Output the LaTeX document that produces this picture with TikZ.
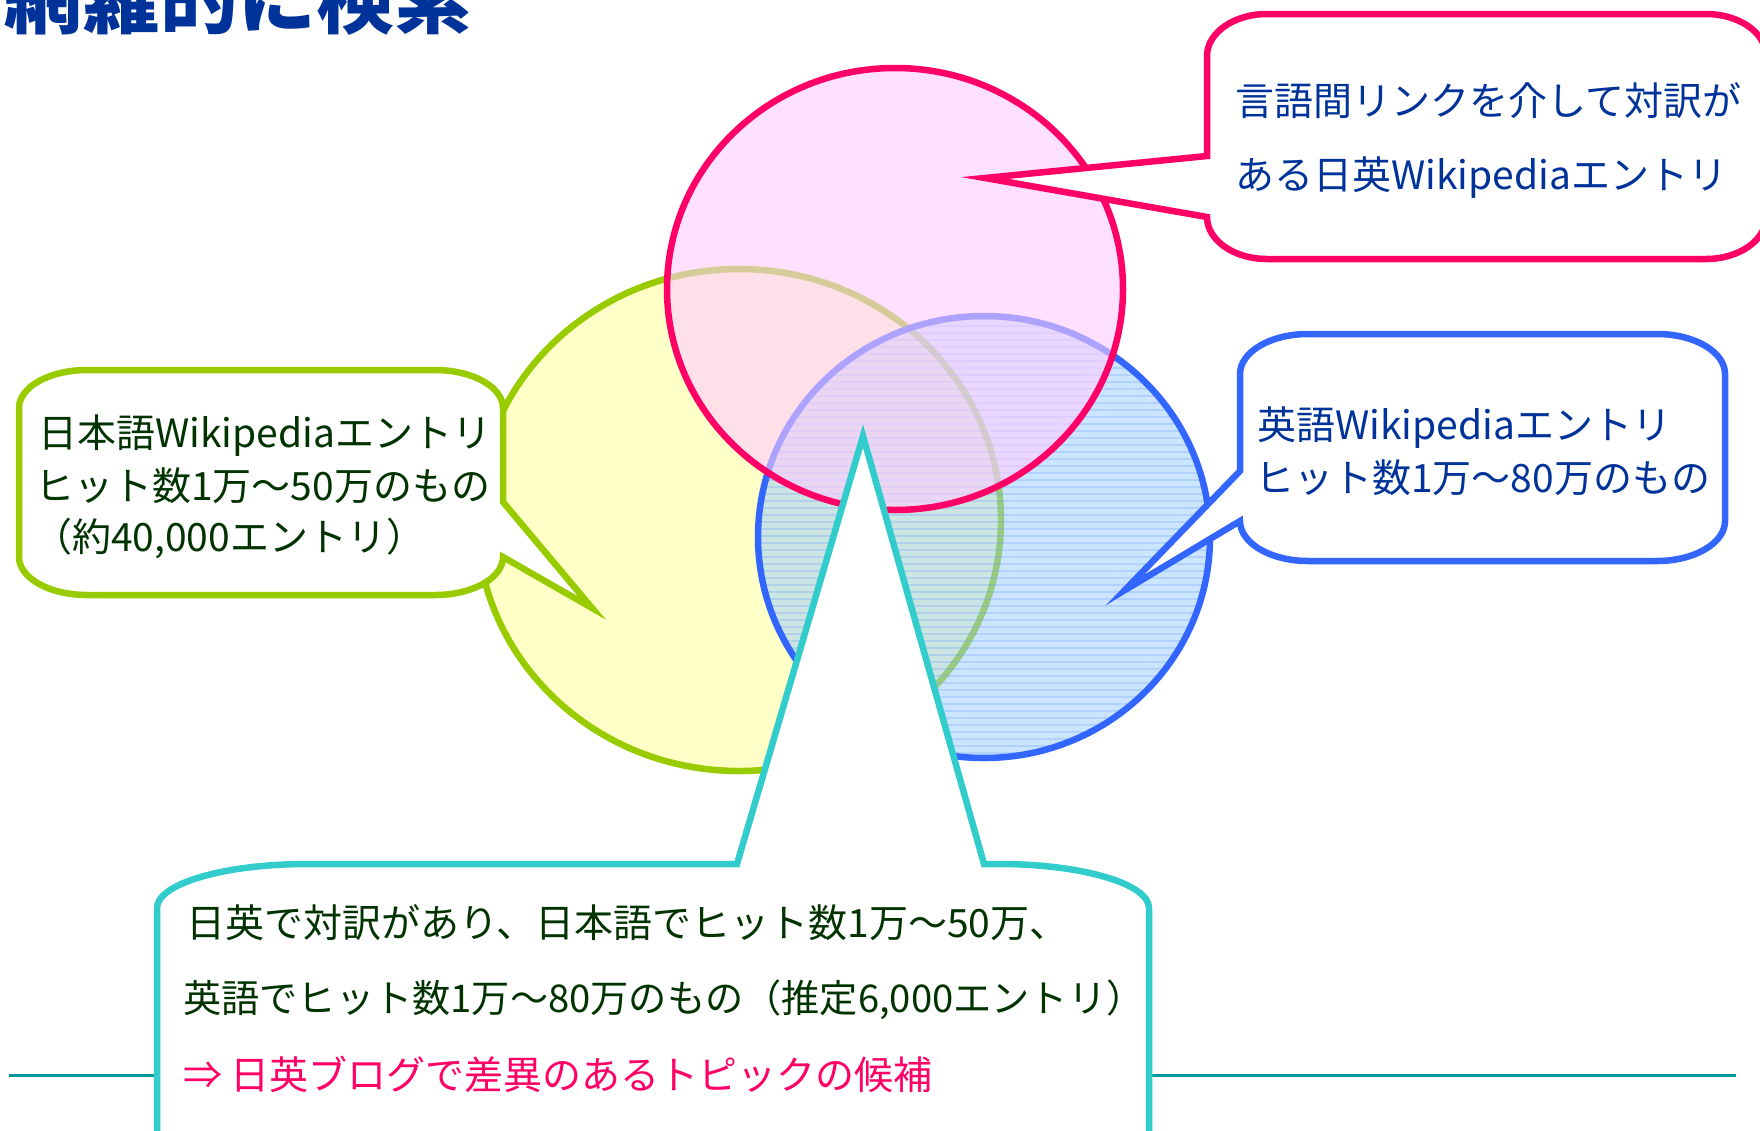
\documentclass[tikz,border=0pt]{standalone}
\usepackage{fontspec}
\setmainfont{Noto Sans CJK JP}
\usetikzlibrary{calc}
\definecolor{pinkc}{HTML}{FF0066}
\definecolor{bluec}{HTML}{3366FF}
\definecolor{greenc}{HTML}{99CC00}
\definecolor{cyanc}{HTML}{33CCCC}
\definecolor{tealc}{HTML}{009999}
\definecolor{txtblue}{HTML}{003399}
\definecolor{txtgreen}{HTML}{003300}
\definecolor{yellowfill}{HTML}{FFFFC8}
\definecolor{bluefill}{HTML}{99CCFF}
\definecolor{pinkfill}{HTML}{FFCCFF}
\definecolor{patblue}{HTML}{6699FF}
% elliptical rounded corner: from A(#1,#2) with corner C(#3,#4) to B(#5,#6)
\newcommand\rc[6]{.. controls ({#1+0.552*(#3-#1)},{#2+0.552*(#4-#2)}) and ({#5+0.552*(#3-#5)},{#6+0.552*(#4-#6)}) .. (#5,#6)}
\tikzset{
  txt/.style={anchor=base west, inner sep=0pt, font=\fontsize{39}{47}\selectfont},
  callbox/.style={line width=6.5pt, fill=white, line join=miter, miter limit=10},
  ring/.style={line width=6.5pt},
}
\begin{document}
\begin{tikzpicture}[x=1pt,y=-1pt]
\useasboundingbox (0,0) rectangle (1760,1130);
\fill[white] (0,0) rectangle (1760,1130);

% title (cut off at top)
\node[anchor=base west, inner sep=0pt, text=txtblue, font=\bfseries\fontsize{78}{78}\selectfont] (title) at (4,27) {網羅的に検索};

% yellow circle
\fill[yellowfill] (739,520) ellipse [x radius=262pt, y radius=251pt];
\draw[ring, greenc] (739,520) ellipse [x radius=262pt, y radius=251pt];

% blue circle (semi-transparent, horizontal line pattern)
\fill[bluefill, fill opacity=0.5] (984,537) ellipse [x radius=226pt, y radius=221pt];
\begin{scope}
  \clip (984,537) ellipse [x radius=226pt, y radius=221pt];
  \foreach \yy in {312,319,...,762} {
    \draw[patblue, line width=1.4pt, draw opacity=0.25] (750,\yy) -- (1220,\yy);
  }
\end{scope}
\draw[ring, bluec] (984,537) ellipse [x radius=226pt, y radius=221pt];

% pink circle
\fill[pinkfill, fill opacity=0.6] (895,289) ellipse [x radius=228pt, y radius=221pt];
\draw[ring, pinkc] (895,289) ellipse [x radius=228pt, y radius=221pt];

% green callout (left)
\coordinate (gtip) at (592,608);
\draw[callbox, draw=greenc] (503,502) -- (gtip) -- (503,557)
  \rc{503}{557}{503}{595}{435}{595} -- (87,595)
  \rc{87}{595}{19}{595}{19}{557} -- (19,408)
  \rc{19}{408}{19}{370}{87}{370} -- (435,370)
  \rc{435}{370}{503}{370}{503}{408} -- cycle;
\node[txt, text=txtgreen] (g1) at (38,447) {日本語Wikipediaエントリ};
\node[txt, text=txtgreen] (g2) at (35,500) {ヒット数1万～50万のもの};
\node[txt, text=txtgreen] (g3) at (33,551) {（約40,000エントリ）};

% blue callout (right)
\coordinate (btip) at (1125,590);
\draw[callbox, draw=bluec] (1240,471) -- (btip) -- (1240,521)
  \rc{1240}{521}{1240}{561}{1308}{561} -- (1657,561)
  \rc{1657}{561}{1725}{561}{1725}{521} -- (1725,374)
  \rc{1725}{374}{1725}{334}{1657}{334} -- (1308,334)
  \rc{1308}{334}{1240}{334}{1240}{374} -- cycle;
\node[txt, text=txtblue] (b1) at (1257,439) {英語Wikipediaエントリ};
\node[txt, text=txtblue] (b2) at (1255,492) {ヒット数1万～80万のもの};

% pink callout (top right)
\coordinate (ptip) at (985,178);
\draw[callbox, draw=pinkc] (1207,156) -- (ptip) -- (1207,217)
  \rc{1207}{217}{1207}{259}{1267}{259} -- (1706,259)
  \rc{1706}{259}{1766}{259}{1766}{217} -- (1766,56)
  \rc{1766}{56}{1766}{14}{1706}{14} -- (1267,14)
  \rc{1267}{14}{1207}{14}{1207}{56} -- cycle;
\node[txt, text=txtblue] (p1) at (1235,115) {言語間リンクを介して対訳が};
\node[txt, text=txtblue] (p2) at (1235,189) {ある日英Wikipediaエントリ};

% teal base line
\coordinate (lineL) at (9,1075);
\coordinate (lineR) at (1736,1075);
\draw[tealc, line width=3pt] (lineL) -- (lineR);

% cyan callout (bottom)
\coordinate (ctip) at (863,436);
\draw[callbox, draw=cyanc] (737,864) -- (ctip) -- (984,864) -- (999,864)
  \rc{999}{864}{1149}{864}{1149}{908} -- (1149,1176)
  \rc{1149}{1176}{1149}{1220}{999}{1220} -- (307,1220)
  \rc{307}{1220}{157}{1220}{157}{1176} -- (157,908)
  \rc{157}{908}{157}{864}{307}{864} -- cycle;
\node[txt, text=txtgreen] (c1) at (186,937) {日英で対訳があり、日本語でヒット数1万～50万、};
\node[txt, text=txtgreen, font=\fontsize{38.2}{46}\selectfont] (c2) at (183,1012) {英語でヒット数1万～80万のもの（推定6,000エントリ）};
\node[txt, text=pinkc] (c3) at (183,1089) {⇒ 日英ブログで差異のあるトピックの候補};
\end{tikzpicture}
\end{document}
